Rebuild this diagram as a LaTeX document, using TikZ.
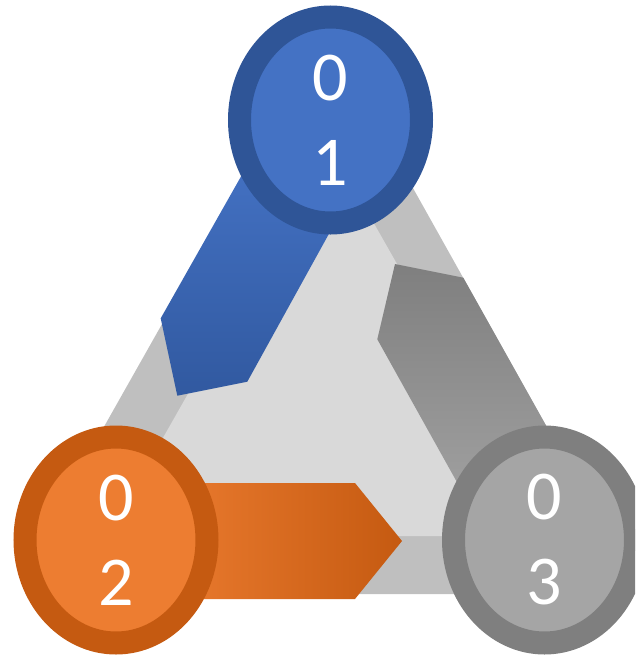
\documentclass[tikz,border=0pt]{standalone}
\usepackage{fontspec}
\setmainfont{Carlito}
\usetikzlibrary{shapes.geometric}
\definecolor{bandgray}{HTML}{BFBFBF}
\definecolor{innergray}{HTML}{D9D9D9}
\definecolor{blueout}{HTML}{2F5597}
\definecolor{bluein}{HTML}{4472C4}
\definecolor{bluedark}{HTML}{3159A0}
\definecolor{orout}{HTML}{C55A11}
\definecolor{orin}{HTML}{ED7D31}
\definecolor{grout}{HTML}{7F7F7F}
\definecolor{grin}{HTML}{A5A5A5}
\definecolor{grlight}{HTML}{A3A3A3}
\tikzset{
  ring/.style={ellipse, minimum width=182pt, minimum height=206pt, inner sep=0pt,
    line width=23pt, text=white, align=center, font=\fontsize{70}{85}\selectfont}
}
\begin{document}
\begin{tikzpicture}[x=1pt,y=-1pt]
\useasboundingbox (0,0) rectangle (635,656);
\clip (0,0) rectangle (635,656);
% triangle band (corners hidden under the circles)
\fill[bandgray] (116,594) -- (544.5,594) -- (610,540) -- (326.3,33.3) -- (40,540) -- cycle;
\fill[innergray] (107.2,536) -- (329.4,145) -- (551.6,536) -- cycle;
% arrows
\shade[top color=bluein, bottom color=bluedark]
  (256,150) -- (160.7,318.3) -- (177.3,395.7) -- (247.3,381.7) -- (375.2,150) -- cycle;
\shade[top color=grout, bottom color=grlight]
  (395,264) -- (463.3,277.7) -- (571,470) -- (479.2,522) -- (377.3,339.3) -- cycle;
\shade[left color=orin, right color=orout]
  (150,483) -- (355,483) -- (402,541) -- (355,599) -- (150,599) -- cycle;
% circles
\node[ring, draw=blueout, fill=bluein] (n1) at (330.5,120) {0\\1};
\node[ring, draw=orout, fill=orin] (n2) at (116,540) {0\\2};
\node[ring, draw=grout, fill=grin] (n3) at (544.5,540) {0\\3};
\end{tikzpicture}
\end{document}
